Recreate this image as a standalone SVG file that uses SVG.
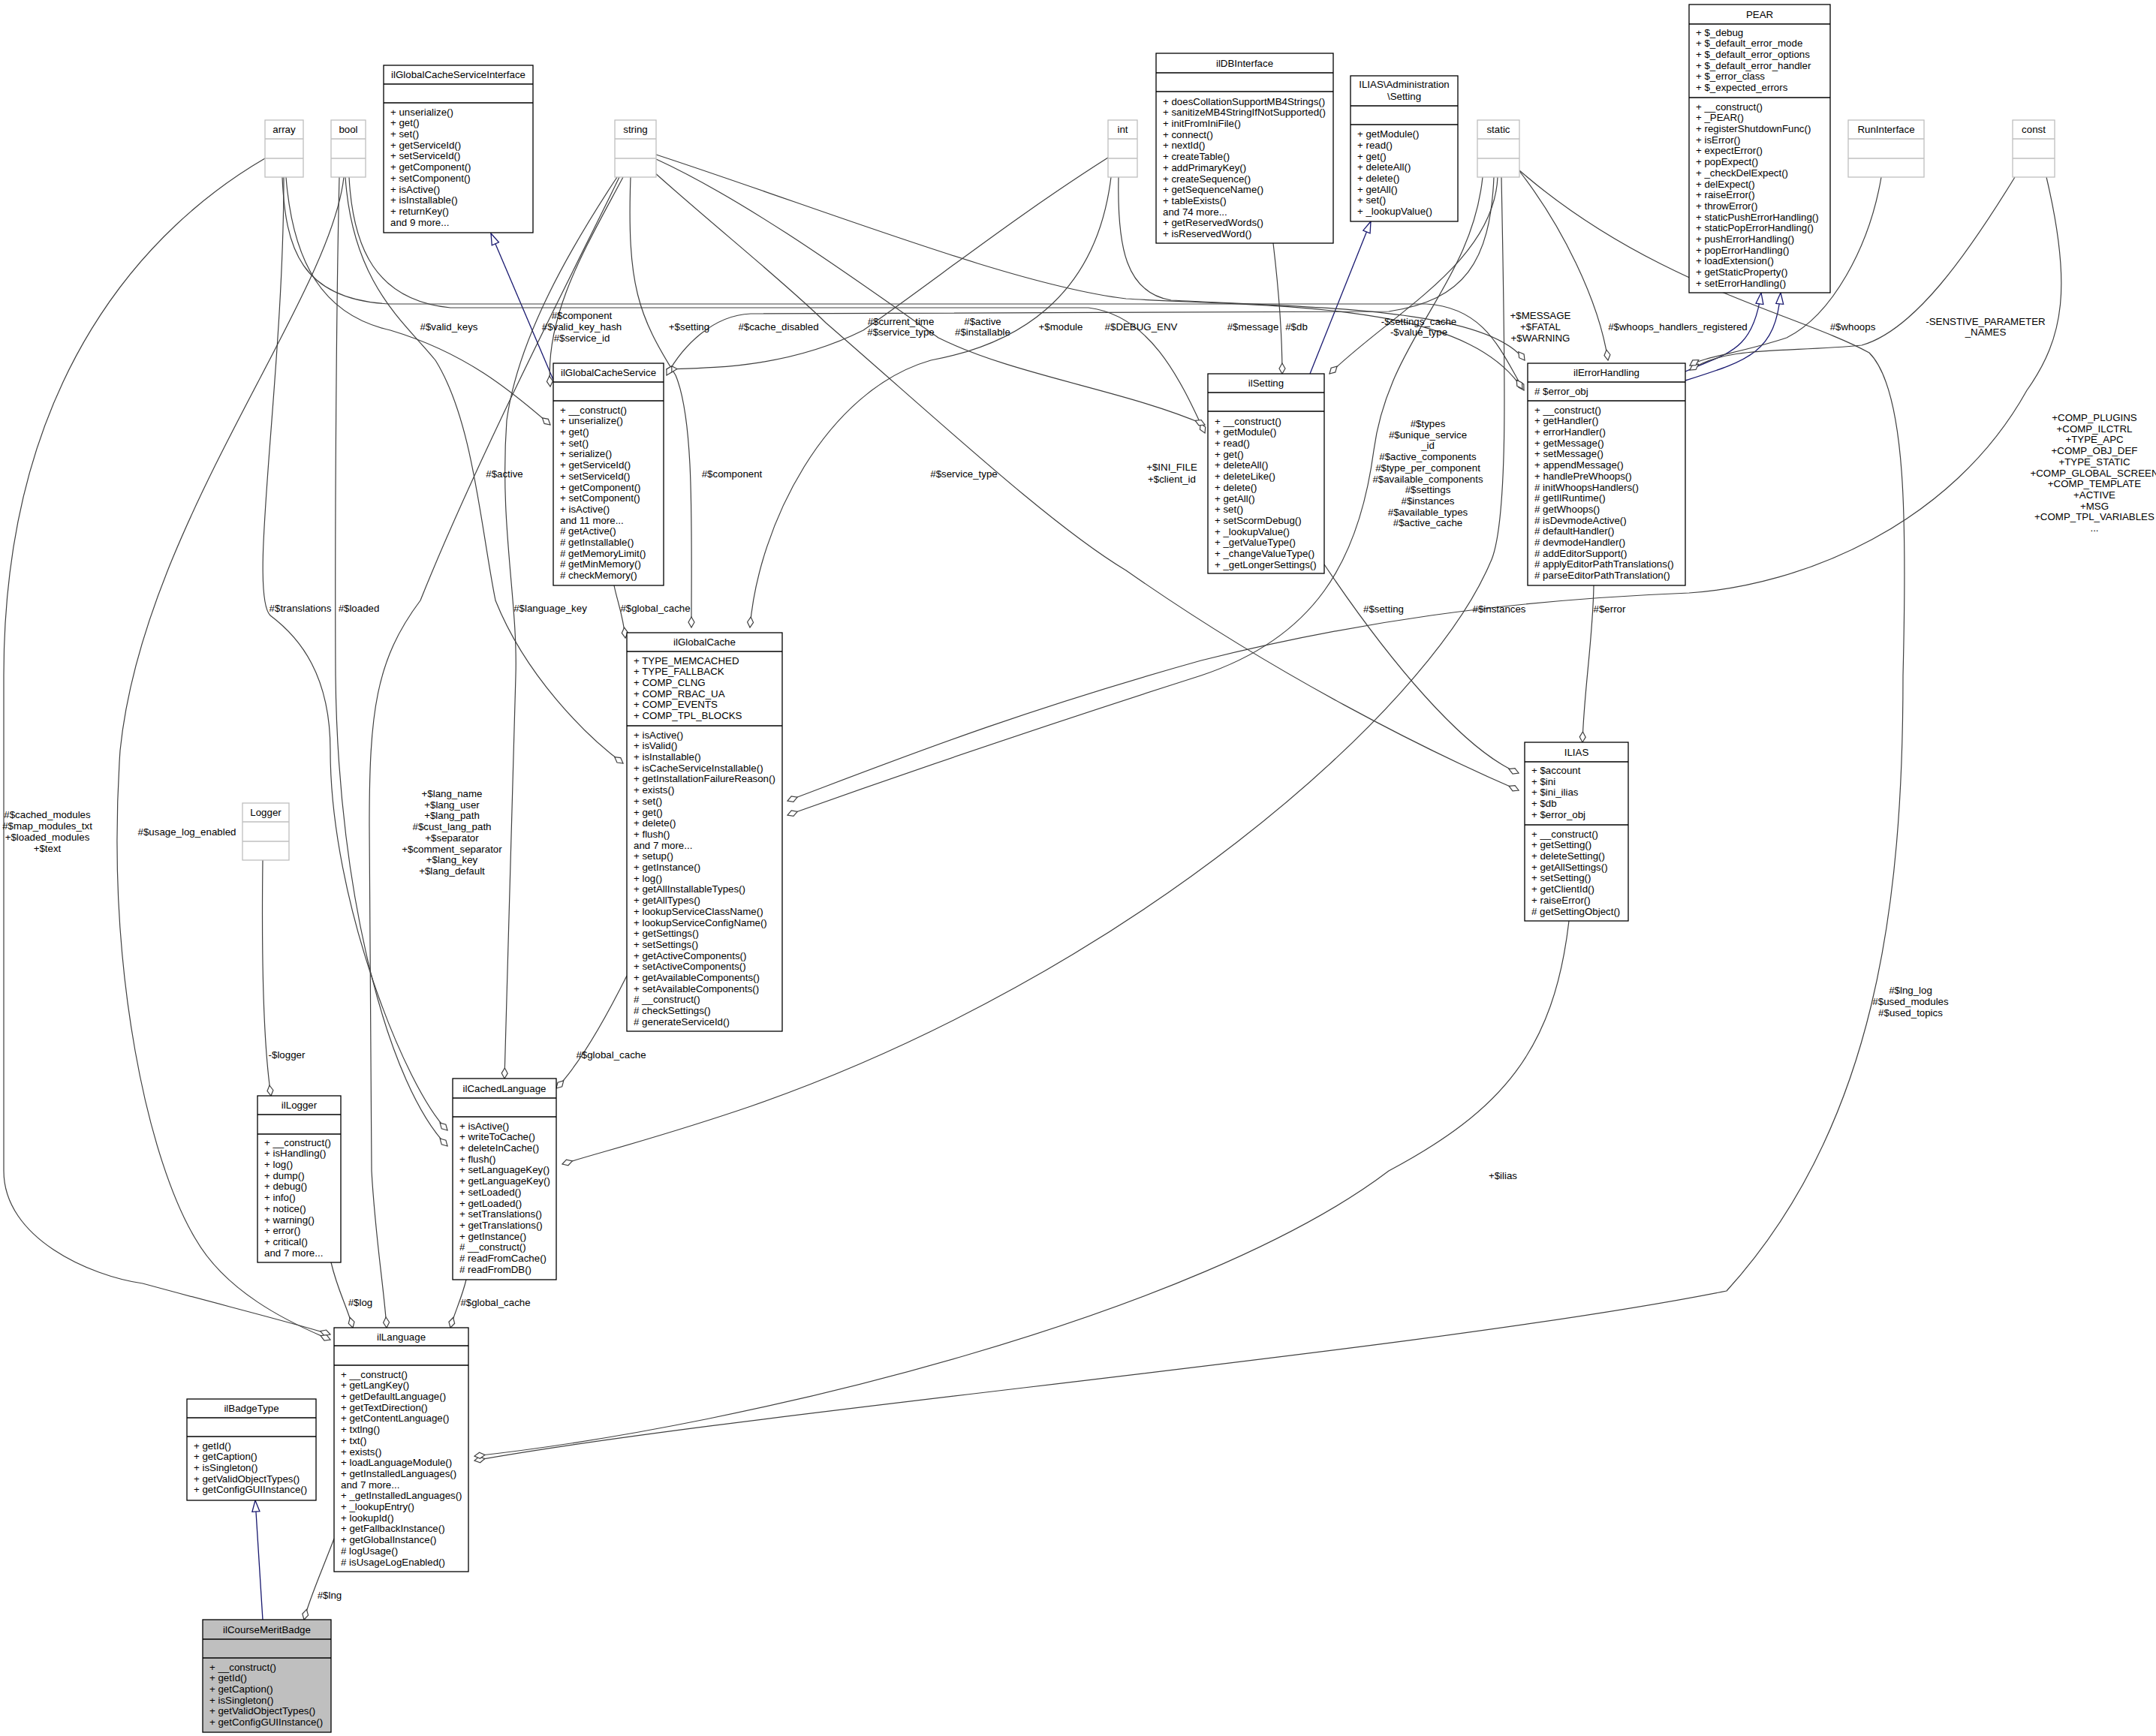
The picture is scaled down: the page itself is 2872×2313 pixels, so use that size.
<svg xmlns="http://www.w3.org/2000/svg" width="2872" height="2313" viewBox="0 0 2872 2313">
<style>
text{font-family:"Liberation Sans",Arial,sans-serif;font-size:13.3px;fill:#000}
.t,.l{text-anchor:middle}
.n{fill:#fff;stroke:#000;stroke-width:1.3}
.s{fill:#bfbfbf;stroke:#000;stroke-width:1.3}
.g{fill:#fff;stroke:#bfbfbf;stroke-width:1.3}
.d{stroke:#000;stroke-width:1.3}
.dg{stroke:#bfbfbf;stroke-width:1.3}
.e{fill:none;stroke:#404040;stroke-width:1.2;marker-end:url(#dia)}
.i{fill:none;stroke:#191970;stroke-width:1.3;marker-end:url(#tri)}
</style>
<defs>
<marker id="dia" markerUnits="userSpaceOnUse" markerWidth="18" markerHeight="12" refX="15" refY="5" orient="auto"><path d="M1,5 L8,1 L15,5 L8,9 Z" fill="#fff" stroke="#404040" stroke-width="1.2"/></marker>
<marker id="tri" markerUnits="userSpaceOnUse" markerWidth="18" markerHeight="14" refX="16" refY="6" orient="auto"><path d="M1,1 L16,6 L1,11 Z" fill="#fff" stroke="#191970" stroke-width="1.3"/></marker>
</defs>
<rect width="2872" height="2313" fill="#fff"/>
<g id="edges">
<path class="i" d="M350,2158 L340,1999"/>
<path class="e" d="M445,2050 C430,2090 412,2130 405,2158"/>
<path class="e" d="M441,1682 C450,1720 462,1740 470,1769"/>
<path class="e" d="M621,1705 C615,1730 605,1750 600,1769"/>
<path class="e" d="M350,1146 C348,1300 352,1400 361,1460"/>
<path class="e" d="M835,1300 C800,1370 770,1420 741,1450"/>
<path class="e" d="M818,780 C822,800 830,820 833,850"/>
<path class="i" d="M737,506 L654,311"/>
<path class="e" d="M1696,324 C1705,400 1708,450 1708,498"/>
<path class="i" d="M1745,498 L1826,295"/>
<path class="e" d="M1764,752 C1850,880 1950,1000 2023,1030"/>
<path class="e" d="M2123,780 C2122,850 2110,920 2108,989"/>
<path class="i" d="M2245,495 C2300,470 2335,470 2346,390"/>
<path class="i" d="M2245,507 C2330,480 2365,470 2372,390"/>
<path class="e" d="M353,211 C200,300 5,500 5,900 L5,1560 C5,1650 120,1700 190,1710 C300,1740 400,1765 440,1778"/>
<path class="e" d="M378,236 C378,500 330,790 360,820 C400,850 440,900 440,1000 C440,1200 540,1450 596,1506"/>
<path class="e" d="M381,236 C390,350 430,420 520,440 C620,470 680,520 733,566"/>
<path class="e" d="M376,236 C380,330 400,400 520,405 L1900,405 C1980,410 2000,470 2030,520"/>
<path class="e" d="M458,236 C440,400 190,700 160,1000 C140,1300 200,1550 260,1650 C300,1720 380,1760 440,1785"/>
<path class="e" d="M452,236 C448,400 446,700 447,900 C450,1200 520,1450 596,1527"/>
<path class="e" d="M460,236 C470,380 540,430 580,480 C630,560 640,700 660,800 C700,900 780,980 830,1017"/>
<path class="e" d="M465,236 C470,330 500,400 600,410 L1450,410 C1530,420 1570,500 1605,577"/>
<path class="e" d="M825,236 C780,330 640,600 560,800 C500,880 492,950 492,1100 L495,1560 C500,1650 512,1720 515,1769"/>
<path class="e" d="M822,236 C760,330 690,450 675,560 C665,700 690,800 687,900 L672,1437"/>
<path class="e" d="M830,236 C780,330 725,420 733,515"/>
<path class="e" d="M840,236 C835,380 850,420 900,500 C925,560 921,700 921,836"/>
<path class="e" d="M874,206 C1100,280 1350,380 1500,398 C1700,410 1950,400 2028,518"/>
<path class="e" d="M874,212 C1000,270 1150,380 1250,450 C1350,500 1500,520 1605,566"/>
<path class="e" d="M872,230 C950,300 1050,380 1100,430 C1250,560 1400,700 1500,760 C1700,900 1900,1000 2023,1053"/>
<path class="e" d="M1476,210 C1350,290 1250,370 1150,440 C1050,490 950,490 888,492"/>
<path class="e" d="M1490,236 C1488,330 1500,390 1560,400 C1750,410 1980,410 2031,480"/>
<path class="e" d="M1480,236 C1460,400 1350,460 1240,480 C1100,520 1010,700 999,836"/>
<path class="e" d="M1995,236 C1990,350 1850,420 1771,498"/>
<path class="e" d="M1990,236 C1985,350 1950,400 1850,415 L1000,418 C950,420 910,460 888,500"/>
<path class="e" d="M1975,236 C1960,380 1850,450 1830,600 C1810,750 1750,850 1600,900 C1350,980 1150,1050 1049,1086"/>
<path class="e" d="M2000,236 C2005,500 2010,700 1985,750 C1900,950 1500,1300 1000,1474 C880,1515 800,1535 749,1551"/>
<path class="e" d="M2024,228 C2080,300 2130,400 2142,480"/>
<path class="e" d="M2024,227 C2200,380 2400,420 2490,470 C2540,520 2540,700 2535,900 C2535,1200 2500,1500 2300,1720 C1900,1800 1000,1880 632,1946"/>
<path class="e" d="M2090,1227 C2070,1400 2000,1480 1850,1560 C1600,1750 1000,1900 632,1940"/>
<path class="e" d="M2684,236 C2620,340 2550,440 2480,460 C2380,470 2300,460 2251,493"/>
<path class="e" d="M2726,236 C2760,380 2750,450 2700,520 C2600,700 2400,780 2250,790 C2000,800 1800,830 1600,880 C1350,950 1200,1010 1049,1067"/>
<path class="e" d="M2506,236 C2490,330 2440,420 2380,450 C2320,470 2270,475 2251,487"/>
</g>
<g id="labels">
<text class="l" x="598" y="440">#$valid_keys</text>
<text class="l" x="775" y="425">#$component</text><text class="l" x="775" y="440">#$valid_key_hash</text><text class="l" x="775" y="455">#$service_id</text>
<text class="l" x="918" y="440">+$setting</text>
<text class="l" x="1037" y="440">#$cache_disabled</text>
<text class="l" x="1200" y="433">#$current_time</text><text class="l" x="1200" y="447">#$service_type</text>
<text class="l" x="1309" y="433">#$active</text><text class="l" x="1309" y="447">#$installable</text>
<text class="l" x="1413" y="440">+$module</text>
<text class="l" x="1520" y="440">#$DEBUG_ENV</text>
<text class="l" x="1669" y="440">#$message</text>
<text class="l" x="1727" y="440">#$db</text>
<text class="l" x="1890" y="433">-$settings_cache</text><text class="l" x="1890" y="447">-$value_type</text>
<text class="l" x="2052" y="425">+$MESSAGE</text><text class="l" x="2052" y="440">+$FATAL</text><text class="l" x="2052" y="455">+$WARNING</text>
<text class="l" x="2235" y="440">#$whoops_handlers_registered</text>
<text class="l" x="2468" y="440">#$whoops</text>
<text class="l" x="2645" y="433">-SENSTIVE_PARAMETER</text><text class="l" x="2645" y="447">_NAMES</text>
<text class="l" x="672" y="636">#$active</text>
<text class="l" x="975" y="636">#$component</text>
<text class="l" x="1284" y="636">#$service_type</text>
<text class="l" x="1561" y="627">+$INI_FILE</text><text class="l" x="1561" y="643">+$client_id</text>
<text class="l" x="1902" y="569">#$types</text><text class="l" x="1902" y="583.7">#$unique_service</text><text class="l" x="1902" y="598.4">_id</text><text class="l" x="1902" y="613.1">#$active_components</text><text class="l" x="1902" y="627.8">#$type_per_component</text><text class="l" x="1902" y="642.5">#$available_components</text><text class="l" x="1902" y="657.2">#$settings</text><text class="l" x="1902" y="671.9">#$instances</text><text class="l" x="1902" y="686.6">#$available_types</text><text class="l" x="1902" y="701.3">#$active_cache</text>
<text class="l" x="2790" y="561">+COMP_PLUGINS</text><text class="l" x="2790" y="575.7">+COMP_ILCTRL</text><text class="l" x="2790" y="590.4">+TYPE_APC</text><text class="l" x="2790" y="605.1">+COMP_OBJ_DEF</text><text class="l" x="2790" y="619.8">+TYPE_STATIC</text><text class="l" x="2790" y="634.5">+COMP_GLOBAL_SCREEN</text><text class="l" x="2790" y="649.2">+COMP_TEMPLATE</text><text class="l" x="2790" y="663.9">+ACTIVE</text><text class="l" x="2790" y="678.6">+MSG</text><text class="l" x="2790" y="693.3">+COMP_TPL_VARIABLES</text><text class="l" x="2790" y="708">...</text>
<text class="l" x="400" y="815">#$translations</text>
<text class="l" x="478" y="815">#$loaded</text>
<text class="l" x="733" y="815">#$language_key</text>
<text class="l" x="873" y="815">#$global_cache</text>
<text class="l" x="63" y="1090">#$cached_modules</text><text class="l" x="63" y="1105">#$map_modules_txt</text><text class="l" x="63" y="1120">+$loaded_modules</text><text class="l" x="63" y="1135">+$text</text>
<text class="l" x="249" y="1113">#$usage_log_enabled</text>
<text class="l" x="602" y="1062">+$lang_name</text><text class="l" x="602" y="1076.7">+$lang_user</text><text class="l" x="602" y="1091.4">+$lang_path</text><text class="l" x="602" y="1106.1">#$cust_lang_path</text><text class="l" x="602" y="1120.8">+$separator</text><text class="l" x="602" y="1135.5">+$comment_separator</text><text class="l" x="602" y="1150.2">+$lang_key</text><text class="l" x="602" y="1164.9">+$lang_default</text>
<text class="l" x="382" y="1410">-$logger</text>
<text class="l" x="814" y="1410">#$global_cache</text>
<text class="l" x="1843" y="816">#$setting</text>
<text class="l" x="1997" y="816">#$instances</text>
<text class="l" x="2144" y="816">#$error</text>
<text class="l" x="2002" y="1571">+$ilias</text>
<text class="l" x="2545" y="1324">#$lng_log</text><text class="l" x="2545" y="1339">#$used_modules</text><text class="l" x="2545" y="1354">#$used_topics</text>
<text class="l" x="480" y="1740">#$log</text>
<text class="l" x="660" y="1740">#$global_cache</text>
<text class="l" x="439" y="2130">#$lng</text>
</g>
<g id="ilCourseMeritBadge"><rect class="s" x="270" y="2158" width="171" height="150"/><line class="d" x1="270" y1="2184" x2="441" y2="2184"/><line class="d" x1="270" y1="2209" x2="441" y2="2209"/><text class="t" x="355.5" y="2175.6">ilCourseMeritBadge</text>
<text x="279" y="2225.6">+ __construct()</text><text x="279" y="2240.3">+ getId()</text><text x="279" y="2255">+ getCaption()</text><text x="279" y="2269.7">+ isSingleton()</text><text x="279" y="2284.4">+ getValidObjectTypes()</text><text x="279" y="2299.1">+ getConfigGUIInstance()</text></g>
<g id="ilBadgeType"><rect class="n" x="249" y="1864" width="172" height="135"/><line class="d" x1="249" y1="1889" x2="421" y2="1889"/><line class="d" x1="249" y1="1914" x2="421" y2="1914"/><text class="t" x="335" y="1881">ilBadgeType</text>
<text x="258" y="1930.6">+ getId()</text><text x="258" y="1945.3">+ getCaption()</text><text x="258" y="1960">+ isSingleton()</text><text x="258" y="1974.7">+ getValidObjectTypes()</text><text x="258" y="1989.4">+ getConfigGUIInstance()</text></g>
<g id="ilLanguage"><rect class="n" x="445" y="1769" width="179" height="325"/><line class="d" x1="445" y1="1793" x2="624" y2="1793"/><line class="d" x1="445" y1="1819" x2="624" y2="1819"/><text class="t" x="534.5" y="1785.6">ilLanguage</text>
<text x="454" y="1835.6">+ __construct()</text><text x="454" y="1850.3">+ getLangKey()</text><text x="454" y="1865">+ getDefaultLanguage()</text><text x="454" y="1879.7">+ getTextDirection()</text><text x="454" y="1894.4">+ getContentLanguage()</text><text x="454" y="1909.1">+ txtlng()</text><text x="454" y="1923.8">+ txt()</text><text x="454" y="1938.5">+ exists()</text><text x="454" y="1953.2">+ loadLanguageModule()</text><text x="454" y="1967.9">+ getInstalledLanguages()</text><text x="454" y="1982.6">and 7 more...</text><text x="454" y="1997.3">+ _getInstalledLanguages()</text><text x="454" y="2012">+ _lookupEntry()</text><text x="454" y="2026.7">+ lookupId()</text><text x="454" y="2041.4">+ getFallbackInstance()</text><text x="454" y="2056.1">+ getGlobalInstance()</text><text x="454" y="2070.8"># logUsage()</text><text x="454" y="2085.5"># isUsageLogEnabled()</text></g>
<g id="ilLogger"><rect class="n" x="343" y="1460" width="111" height="222"/><line class="d" x1="343" y1="1485" x2="454" y2="1485"/><line class="d" x1="343" y1="1511" x2="454" y2="1511"/><text class="t" x="398.5" y="1477">ilLogger</text>
<text x="352" y="1526.6">+ __construct()</text><text x="352" y="1541.3">+ isHandling()</text><text x="352" y="1556">+ log()</text><text x="352" y="1570.7">+ dump()</text><text x="352" y="1585.4">+ debug()</text><text x="352" y="1600.1">+ info()</text><text x="352" y="1614.8">+ notice()</text><text x="352" y="1629.5">+ warning()</text><text x="352" y="1644.2">+ error()</text><text x="352" y="1658.9">+ critical()</text><text x="352" y="1673.6">and 7 more...</text></g>
<g id="Logger"><rect class="g" x="323" y="1070" width="62" height="76"/><line class="dg" x1="323" y1="1095" x2="385" y2="1095"/><line class="dg" x1="323" y1="1121" x2="385" y2="1121"/><text class="t" x="354" y="1087">Logger</text></g>
<g id="ilCachedLanguage"><rect class="n" x="603" y="1437" width="138" height="268"/><line class="d" x1="603" y1="1463" x2="741" y2="1463"/><line class="d" x1="603" y1="1488" x2="741" y2="1488"/><text class="t" x="672" y="1454.6">ilCachedLanguage</text>
<text x="612" y="1504.6">+ isActive()</text><text x="612" y="1519.3">+ writeToCache()</text><text x="612" y="1534">+ deleteInCache()</text><text x="612" y="1548.7">+ flush()</text><text x="612" y="1563.4">+ setLanguageKey()</text><text x="612" y="1578.1">+ getLanguageKey()</text><text x="612" y="1592.8">+ setLoaded()</text><text x="612" y="1607.5">+ getLoaded()</text><text x="612" y="1622.2">+ setTranslations()</text><text x="612" y="1636.9">+ getTranslations()</text><text x="612" y="1651.6">+ getInstance()</text><text x="612" y="1666.3"># __construct()</text><text x="612" y="1681"># readFromCache()</text><text x="612" y="1695.7"># readFromDB()</text></g>
<g id="ilGlobalCache"><rect class="n" x="835" y="843" width="207" height="531"/><line class="d" x1="835" y1="868" x2="1042" y2="868"/><line class="d" x1="835" y1="967" x2="1042" y2="967"/><text class="t" x="938.5" y="860">ilGlobalCache</text>
<text x="844" y="884.6">+ TYPE_MEMCACHED</text><text x="844" y="899.3">+ TYPE_FALLBACK</text><text x="844" y="914">+ COMP_CLNG</text><text x="844" y="928.7">+ COMP_RBAC_UA</text><text x="844" y="943.4">+ COMP_EVENTS</text><text x="844" y="958.1">+ COMP_TPL_BLOCKS</text>
<text x="844" y="983.6">+ isActive()</text><text x="844" y="998.3">+ isValid()</text><text x="844" y="1013">+ isInstallable()</text><text x="844" y="1027.7">+ isCacheServiceInstallable()</text><text x="844" y="1042.4">+ getInstallationFailureReason()</text><text x="844" y="1057.1">+ exists()</text><text x="844" y="1071.8">+ set()</text><text x="844" y="1086.5">+ get()</text><text x="844" y="1101.2">+ delete()</text><text x="844" y="1115.9">+ flush()</text><text x="844" y="1130.6">and 7 more...</text><text x="844" y="1145.3">+ setup()</text><text x="844" y="1160">+ getInstance()</text><text x="844" y="1174.7">+ log()</text><text x="844" y="1189.4">+ getAllInstallableTypes()</text><text x="844" y="1204.1">+ getAllTypes()</text><text x="844" y="1218.8">+ lookupServiceClassName()</text><text x="844" y="1233.5">+ lookupServiceConfigName()</text><text x="844" y="1248.2">+ getSettings()</text><text x="844" y="1262.9">+ setSettings()</text><text x="844" y="1277.6">+ getActiveComponents()</text><text x="844" y="1292.3">+ setActiveComponents()</text><text x="844" y="1307">+ getAvailableComponents()</text><text x="844" y="1321.7">+ setAvailableComponents()</text><text x="844" y="1336.4"># __construct()</text><text x="844" y="1351.1"># checkSettings()</text><text x="844" y="1365.8"># generateServiceId()</text></g>
<g id="ilGlobalCacheService"><rect class="n" x="737" y="484" width="147" height="296"/><line class="d" x1="737" y1="509" x2="884" y2="509"/><line class="d" x1="737" y1="534" x2="884" y2="534"/><text class="t" x="810.5" y="501">ilGlobalCacheService</text>
<text x="746" y="550.6">+ __construct()</text><text x="746" y="565.3">+ unserialize()</text><text x="746" y="580">+ get()</text><text x="746" y="594.7">+ set()</text><text x="746" y="609.4">+ serialize()</text><text x="746" y="624.1">+ getServiceId()</text><text x="746" y="638.8">+ setServiceId()</text><text x="746" y="653.5">+ getComponent()</text><text x="746" y="668.2">+ setComponent()</text><text x="746" y="682.9">+ isActive()</text><text x="746" y="697.6">and 11 more...</text><text x="746" y="712.3"># getActive()</text><text x="746" y="727"># getInstallable()</text><text x="746" y="741.7"># getMemoryLimit()</text><text x="746" y="756.4"># getMinMemory()</text><text x="746" y="771.1"># checkMemory()</text></g>
<g id="ilGlobalCacheServiceInterface"><rect class="n" x="511" y="87" width="199" height="223"/><line class="d" x1="511" y1="112" x2="710" y2="112"/><line class="d" x1="511" y1="137" x2="710" y2="137"/><text class="t" x="610.5" y="104">ilGlobalCacheServiceInterface</text>
<text x="520" y="153.6">+ unserialize()</text><text x="520" y="168.3">+ get()</text><text x="520" y="183">+ set()</text><text x="520" y="197.7">+ getServiceId()</text><text x="520" y="212.4">+ setServiceId()</text><text x="520" y="227.1">+ getComponent()</text><text x="520" y="241.8">+ setComponent()</text><text x="520" y="256.5">+ isActive()</text><text x="520" y="271.2">+ isInstallable()</text><text x="520" y="285.9">+ returnKey()</text><text x="520" y="300.6">and 9 more...</text></g>
<g id="array"><rect class="g" x="353" y="160" width="51" height="76"/><line class="dg" x1="353" y1="185" x2="404" y2="185"/><line class="dg" x1="353" y1="211" x2="404" y2="211"/><text class="t" x="378.5" y="177">array</text></g>
<g id="bool"><rect class="g" x="441" y="160" width="46" height="76"/><line class="dg" x1="441" y1="185" x2="487" y2="185"/><line class="dg" x1="441" y1="211" x2="487" y2="211"/><text class="t" x="464" y="177">bool</text></g>
<g id="string"><rect class="g" x="819" y="160" width="55" height="76"/><line class="dg" x1="819" y1="185" x2="874" y2="185"/><line class="dg" x1="819" y1="211" x2="874" y2="211"/><text class="t" x="846.5" y="177">string</text></g>
<g id="int"><rect class="g" x="1476" y="160" width="39" height="76"/><line class="dg" x1="1476" y1="185" x2="1515" y2="185"/><line class="dg" x1="1476" y1="211" x2="1515" y2="211"/><text class="t" x="1495.5" y="177">int</text></g>
<g id="static"><rect class="g" x="1968" y="160" width="56" height="76"/><line class="dg" x1="1968" y1="185" x2="2024" y2="185"/><line class="dg" x1="1968" y1="211" x2="2024" y2="211"/><text class="t" x="1996" y="177">static</text></g>
<g id="RunInterface"><rect class="g" x="2462" y="160" width="101" height="76"/><line class="dg" x1="2462" y1="185" x2="2563" y2="185"/><line class="dg" x1="2462" y1="211" x2="2563" y2="211"/><text class="t" x="2512.5" y="177">RunInterface</text></g>
<g id="const"><rect class="g" x="2681" y="160" width="56" height="76"/><line class="dg" x1="2681" y1="185" x2="2737" y2="185"/><line class="dg" x1="2681" y1="211" x2="2737" y2="211"/><text class="t" x="2709" y="177">const</text></g>
<g id="ilDBInterface"><rect class="n" x="1540" y="71" width="236" height="253"/><line class="d" x1="1540" y1="97" x2="1776" y2="97"/><line class="d" x1="1540" y1="122" x2="1776" y2="122"/><text class="t" x="1658" y="88.6">ilDBInterface</text>
<text x="1549" y="139.6">+ doesCollationSupportMB4Strings()</text><text x="1549" y="154.3">+ sanitizeMB4StringIfNotSupported()</text><text x="1549" y="169">+ initFromIniFile()</text><text x="1549" y="183.7">+ connect()</text><text x="1549" y="198.4">+ nextId()</text><text x="1549" y="213.1">+ createTable()</text><text x="1549" y="227.8">+ addPrimaryKey()</text><text x="1549" y="242.5">+ createSequence()</text><text x="1549" y="257.2">+ getSequenceName()</text><text x="1549" y="271.9">+ tableExists()</text><text x="1549" y="286.6">and 74 more...</text><text x="1549" y="301.3">+ getReservedWords()</text><text x="1549" y="316">+ isReservedWord()</text></g>
<g id="ILIASAdministrationSetting"><rect class="n" x="1799" y="101" width="143" height="194"/><line class="d" x1="1799" y1="141" x2="1942" y2="141"/><line class="d" x1="1799" y1="166" x2="1942" y2="166"/><text class="t" x="1870.5" y="116.6">ILIAS\Administration</text><text class="t" x="1870.5" y="132.6">\Setting</text>
<text x="1808" y="183.2">+ getModule()</text><text x="1808" y="197.9">+ read()</text><text x="1808" y="212.6">+ get()</text><text x="1808" y="227.3">+ deleteAll()</text><text x="1808" y="242">+ delete()</text><text x="1808" y="256.7">+ getAll()</text><text x="1808" y="271.4">+ set()</text><text x="1808" y="286.1">+ _lookupValue()</text></g>
<g id="ilSetting"><rect class="n" x="1609" y="498" width="155" height="266"/><line class="d" x1="1609" y1="523" x2="1764" y2="523"/><line class="d" x1="1609" y1="548" x2="1764" y2="548"/><text class="t" x="1686.5" y="515">ilSetting</text>
<text x="1618" y="565.6">+ __construct()</text><text x="1618" y="580.3">+ getModule()</text><text x="1618" y="595">+ read()</text><text x="1618" y="609.7">+ get()</text><text x="1618" y="624.4">+ deleteAll()</text><text x="1618" y="639.1">+ deleteLike()</text><text x="1618" y="653.8">+ delete()</text><text x="1618" y="668.5">+ getAll()</text><text x="1618" y="683.2">+ set()</text><text x="1618" y="697.9">+ setScormDebug()</text><text x="1618" y="712.6">+ _lookupValue()</text><text x="1618" y="727.3">+ _getValueType()</text><text x="1618" y="742">+ _changeValueType()</text><text x="1618" y="756.7">+ _getLongerSettings()</text></g>
<g id="PEAR"><rect class="n" x="2250" y="6" width="188" height="384"/><line class="d" x1="2250" y1="32" x2="2438" y2="32"/><line class="d" x1="2250" y1="130" x2="2438" y2="130"/><text class="t" x="2344" y="23.6">PEAR</text>
<text x="2259" y="47.6">+ $_debug</text><text x="2259" y="62.3">+ $_default_error_mode</text><text x="2259" y="77">+ $_default_error_options</text><text x="2259" y="91.7">+ $_default_error_handler</text><text x="2259" y="106.4">+ $_error_class</text><text x="2259" y="121.1">+ $_expected_errors</text>
<text x="2259" y="146.6">+ __construct()</text><text x="2259" y="161.3">+ _PEAR()</text><text x="2259" y="176">+ registerShutdownFunc()</text><text x="2259" y="190.7">+ isError()</text><text x="2259" y="205.4">+ expectError()</text><text x="2259" y="220.1">+ popExpect()</text><text x="2259" y="234.8">+ _checkDelExpect()</text><text x="2259" y="249.5">+ delExpect()</text><text x="2259" y="264.2">+ raiseError()</text><text x="2259" y="278.9">+ throwError()</text><text x="2259" y="293.6">+ staticPushErrorHandling()</text><text x="2259" y="308.3">+ staticPopErrorHandling()</text><text x="2259" y="323">+ pushErrorHandling()</text><text x="2259" y="337.7">+ popErrorHandling()</text><text x="2259" y="352.4">+ loadExtension()</text><text x="2259" y="367.1">+ getStaticProperty()</text><text x="2259" y="381.8">+ setErrorHandling()</text></g>
<g id="ilErrorHandling"><rect class="n" x="2035" y="484" width="210" height="296"/><line class="d" x1="2035" y1="509" x2="2245" y2="509"/><line class="d" x1="2035" y1="534" x2="2245" y2="534"/><text class="t" x="2140" y="501">ilErrorHandling</text>
<text x="2044" y="526"># $error_obj</text>
<text x="2044" y="550.6">+ __construct()</text><text x="2044" y="565.3">+ getHandler()</text><text x="2044" y="580">+ errorHandler()</text><text x="2044" y="594.7">+ getMessage()</text><text x="2044" y="609.4">+ setMessage()</text><text x="2044" y="624.1">+ appendMessage()</text><text x="2044" y="638.8">+ handlePreWhoops()</text><text x="2044" y="653.5"># initWhoopsHandlers()</text><text x="2044" y="668.2"># getIlRuntime()</text><text x="2044" y="682.9"># getWhoops()</text><text x="2044" y="697.6"># isDevmodeActive()</text><text x="2044" y="712.3"># defaultHandler()</text><text x="2044" y="727"># devmodeHandler()</text><text x="2044" y="741.7"># addEditorSupport()</text><text x="2044" y="756.4"># applyEditorPathTranslations()</text><text x="2044" y="771.1"># parseEditorPathTranslation()</text></g>
<g id="ILIAS"><rect class="n" x="2031" y="989" width="138" height="238"/><line class="d" x1="2031" y1="1015" x2="2169" y2="1015"/><line class="d" x1="2031" y1="1099" x2="2169" y2="1099"/><text class="t" x="2100" y="1006.6">ILIAS</text>
<text x="2040" y="1031">+ $account</text><text x="2040" y="1045.7">+ $ini</text><text x="2040" y="1060.4">+ $ini_ilias</text><text x="2040" y="1075.1">+ $db</text><text x="2040" y="1089.8">+ $error_obj</text>
<text x="2040" y="1115.6">+ __construct()</text><text x="2040" y="1130.3">+ getSetting()</text><text x="2040" y="1145">+ deleteSetting()</text><text x="2040" y="1159.7">+ getAllSettings()</text><text x="2040" y="1174.4">+ setSetting()</text><text x="2040" y="1189.1">+ getClientId()</text><text x="2040" y="1203.8">+ raiseError()</text><text x="2040" y="1218.5"># getSettingObject()</text></g>
</svg>
